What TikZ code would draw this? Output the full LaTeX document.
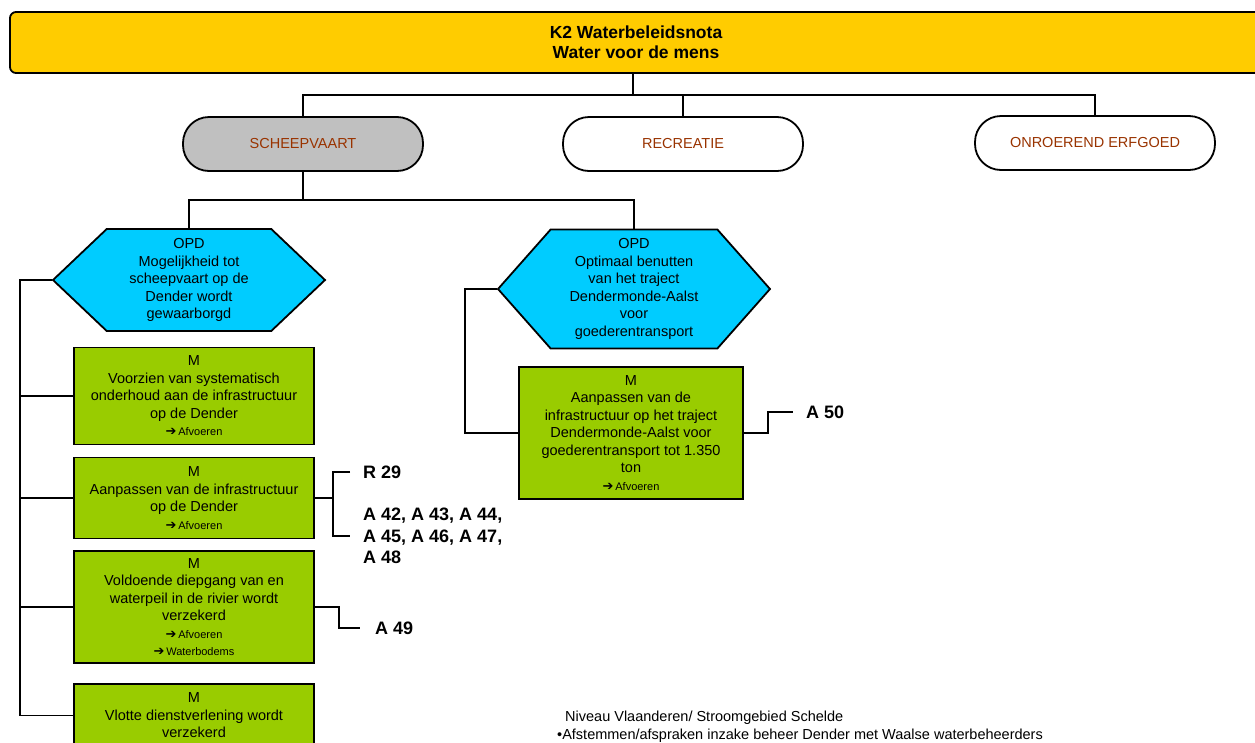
\documentclass[tikz,border=0pt]{standalone}
\usepackage{fontspec}
\setmainfont{Liberation Sans}
\newfontfamily\arrowfont{DejaVu Sans}[BoldFont={DejaVu Sans Bold}]
\usetikzlibrary{positioning, shapes.symbols, shapes.misc}
\definecolor{gold}{HTML}{FFCC00}
\definecolor{opdblue}{HTML}{00CCFF}
\definecolor{mgreen}{HTML}{99CC00}
\definecolor{greypill}{HTML}{C0C0C0}
\definecolor{rust}{HTML}{993300}
\newcommand{\naar}[1]{{\fontsize{11}{13}\selectfont{\arrowfont\bfseries\fontsize{13}{13}\selectfont\char"2794}\,#1}}
\tikzset{
  body/.style={font=\fontsize{14.5}{17.5}\selectfont, align=center, text=black,
               draw=black, line width=1.8pt, inner sep=3pt},
  %
  notabox/.style={body, fill=gold, rounded corners=6pt,
                  font=\bfseries\fontsize{17.5}{20}\selectfont},
  pill/.style={body, fill=white, rounded corners=26pt, text=rust,
               minimum width=240, minimum height=54},
  pillg/.style={pill, fill=greypill},
  opd/.style={body, fill=opdblue, shape=signal, signal to=east and west},
  mbox/.style={body, fill=mgreen, minimum width=240},
  %
  link/.style={draw=black, line width=1.8pt},
  ref/.style={font=\bfseries\fontsize{18}{21.5}\selectfont, align=left, inner sep=0pt},
  note/.style={font=\fontsize{14.5}{18}\selectfont, align=left, inner sep=0pt},
}
\begin{document}
\begin{tikzpicture}[x=1pt, y=1pt]
  \clip (0,0) rectangle (1255,-742);

  % --- top of the tree -----------------------------------------------------
  \node[notabox, minimum width=1252, minimum height=61] (nota) at (636,-42.5)
    {K2 Waterbeleidsnota\\Water voor de mens};

  \node[pillg] (scheep) at (303,-144) {SCHEEPVAART};
  \node[pill] (recreatie) at (683,-144) {RECREATIE};
  \node[pill] (erfgoed) at (1095,-143) {ONROEREND ERFGOED};

  \coordinate (notaknoop) at (633,-95);
  \draw[link] (notaknoop |- nota.south) -- (notaknoop);
  \draw[link] (scheep.north) |- (notaknoop) -| (erfgoed.north);
  \draw[link] (notaknoop) -| (recreatie.north);

  % --- the two OPD hexagons ------------------------------------------------
  \node[opd, minimum width=272, minimum height=102, signal pointer angle=87] (opd1) at (189,-280)
    {OPD\\Mogelijkheid tot\\scheepvaart op de\\Dender wordt\\gewaarborgd};
  \node[opd, minimum width=272, minimum height=119, signal pointer angle=97] (opd2) at (634,-289)
    {OPD\\Optimaal benutten\\van het traject\\Dendermonde-Aalst\\voor\\goederentransport};

  \coordinate (scheepknoop) at (303,-200);
  \draw[link] (scheep.south) -- (scheepknoop);
  \draw[link] (opd1.north) |- (scheepknoop) -| (opd2.north);

  % --- measures under the first OPD ----------------------------------------
  \node[mbox, minimum height=97] (m1) at (194,-396)
    {M\\Voorzien van systematisch\\onderhoud aan de infrastructuur\\op de Dender\\\naar{Afvoeren}};
  \node[mbox, minimum height=81] (m2) at (194,-498)
    {M\\Aanpassen van de infrastructuur\\op de Dender\\\naar{Afvoeren}};
  \node[mbox, minimum height=112] (m3) at (194,-607)
    {M\\Voldoende diepgang van en\\waterpeil in de rivier wordt\\verzekerd\\\naar{Afvoeren}\\\naar{Waterbodems}};
  \node[mbox, anchor=north, inner ysep=9pt] (m4) at (194,-683)
    {M\\Vlotte dienstverlening wordt\\verzekerd};

  \coordinate (bus) at (20,-280);
  \draw[link] (opd1.west) -- (bus) -- (bus |- m4.west) -- (m4.west);
  \foreach \m in {m1,m2,m3} { \draw[link] (bus |- \m.west) -- (\m.west); }

  % --- references ------------------------------------------------------------
  \coordinate (m2vork) at (333,-498);
  \coordinate (r29pin) at (350,-472);
  \coordinate (a42pin) at (350,-536);
  \draw[link] (m2.east) -- (m2vork);
  \draw[link] (r29pin) -| (m2vork) |- (a42pin);
  \node[ref, anchor=west, right=13pt of r29pin] (r29) {R 29};
  \node[ref, anchor=west, right=13pt of a42pin] (a42) {A 42, A 43, A 44,\\A 45, A 46, A 47,\\A 48};

  \coordinate (a49pin) at (360,-628);
  \draw[link] (m3.east) -- ++(24,0) |- (a49pin);
  \node[ref, right=15pt of a49pin] (a49) {A 49};

  % --- second OPD branch -----------------------------------------------------
  \node[mbox, minimum width=224, minimum height=132] (m5) at (631,-433)
    {M\\Aanpassen van de\\infrastructuur op het traject\\Dendermonde-Aalst voor\\goederentransport tot 1.350\\ton\\\naar{Afvoeren}};
  \draw[link] (opd2.west) -- ++(-32,0) |- (m5.west);

  \coordinate (a50pin) at (793,-412);
  \draw[link] (m5.east) -- ++(24,0) |- (a50pin);
  \node[ref, right=13pt of a50pin] (a50) {A 50};

  % --- footnote ---------------------------------------------------------------
  \node[note, anchor=west] (niveau) at (557,-727)
    {\hspace*{8pt}Niveau Vlaanderen/ Stroomgebied Schelde\\\textbullet Afstemmen/afspraken inzake beheer Dender met Waalse waterbeheerders};

\end{tikzpicture}
\end{document}
